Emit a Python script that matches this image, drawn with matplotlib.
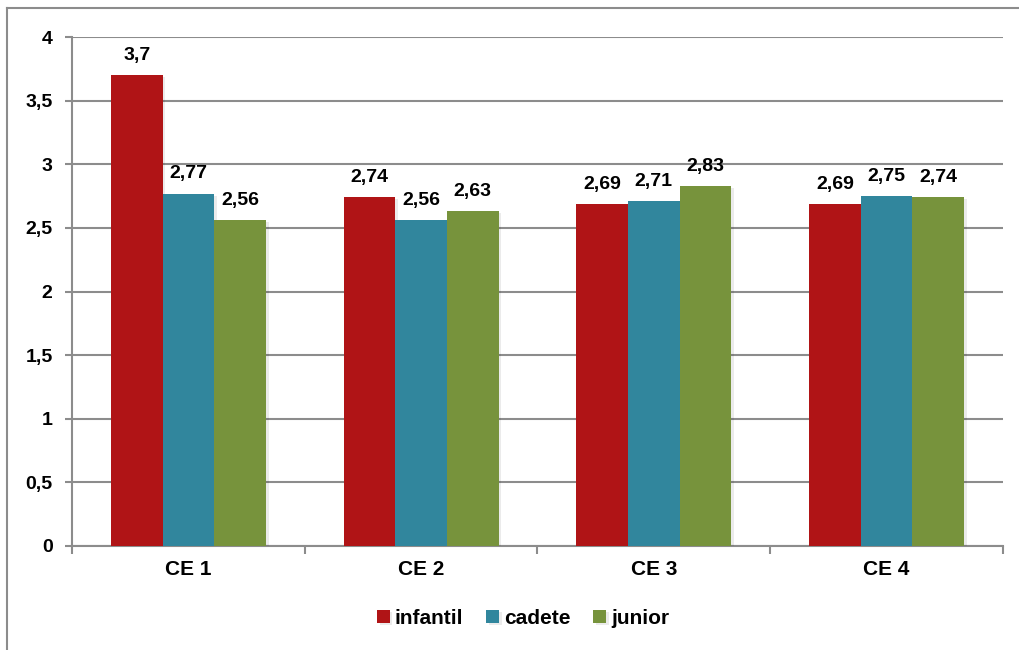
import matplotlib
matplotlib.use("Agg")
import matplotlib.pyplot as plt
import numpy as np
from matplotlib.lines import Line2D
from matplotlib.ticker import FixedLocator, NullFormatter
import matplotlib.patheffects as pe

plt.rcParams['font.family'] = ['Liberation Sans', 'DejaVu Sans']

categories = ["CE 1", "CE 2", "CE 3", "CE 4"]
series_names = ["infantil", "cadete", "junior"]
infantil = [3.7, 2.74, 2.69, 2.69]
cadete = [2.77, 2.56, 2.71, 2.75]
junior = [2.56, 2.63, 2.83, 2.74]
labels_infantil = ["3,7", "2,74", "2,69", "2,69"]
labels_cadete = ["2,77", "2,56", "2,71", "2,75"]
labels_junior = ["2,56", "2,63", "2,83", "2,74"]
yticks = [0, 0.5, 1, 1.5, 2, 2.5, 3, 3.5, 4]
ytick_labels = ["0", "0,5", "1", "1,5", "2", "2,5", "3", "3,5", "4"]
colors = ["#B01416", "#31869D", "#77933C"]

fig = plt.figure(figsize=(10.2, 6.5), dpi=100)
ax = fig.add_axes([72/1020, 1-546/650, (1003-72)/1020, (546-37)/650])

# figure frame (top and left visible)
fig.add_artist(Line2D([7/1020, 7/1020], [0, 1-8/650], transform=fig.transFigure, color="#8c8c8c", lw=1.5))
fig.add_artist(Line2D([7/1020, 1], [1-8/650, 1-8/650], transform=fig.transFigure, color="#8c8c8c", lw=1.5))

x = np.arange(len(categories))
w = 0.222
all_vals = [infantil, cadete, junior]
all_labels = [labels_infantil, labels_cadete, labels_junior]
shadow = [pe.SimplePatchShadow(offset=(2, -1.5), shadow_rgbFace="#000000", alpha=0.08), pe.Normal()]
for i, (vals, labs, c, name) in enumerate(zip(all_vals, all_labels, colors, series_names)):
    pos = x + (i - 1) * w
    bars = ax.bar(pos, vals, width=w, color=c, label=name, zorder=3)
    for b in bars:
        b.set_path_effects(shadow)
    for p, v, l in zip(pos, vals, labs):
        ax.annotate(l, (p, v), xytext=(0, 8), textcoords="offset points",
                    ha="center", va="bottom", fontsize=14, fontweight="bold", color="black")

ax.set_xlim(-0.5, len(categories) - 0.5)
ax.set_ylim(0, 4)
ax.set_yticks(yticks)
ax.set_yticklabels(ytick_labels, fontsize=14, fontweight="bold")
ax.yaxis.grid(True, color="#8c8c8c", lw=1.5, zorder=0)
ax.set_axisbelow(True)

ax.set_xticks(x)
ax.set_xticklabels(categories, fontsize=15, fontweight="bold")
ax.tick_params(axis="x", length=0, pad=10)
ax.xaxis.set_minor_locator(FixedLocator(np.arange(-0.5, len(categories), 1.0)))
ax.xaxis.set_minor_formatter(NullFormatter())
ax.tick_params(axis="x", which="minor", length=6, width=1.5, color="#8c8c8c", direction="out")
ax.tick_params(axis="y", length=5, width=1.5, color="#8c8c8c", direction="out", pad=9)

for s in ["top", "right"]:
    ax.spines[s].set_visible(False)
for s in ["left", "bottom"]:
    ax.spines[s].set_color("#8c8c8c")
    ax.spines[s].set_linewidth(1.5)

leg = fig.legend(loc="center", bbox_to_anchor=(0.513, 1-618/650), ncol=3, frameon=False,
                 prop={"size": 15, "weight": "bold"}, handlelength=0.6, handleheight=0.6,
                 handletextpad=0.25, columnspacing=1.1)

fig.savefig("out.png", dpi=100)
